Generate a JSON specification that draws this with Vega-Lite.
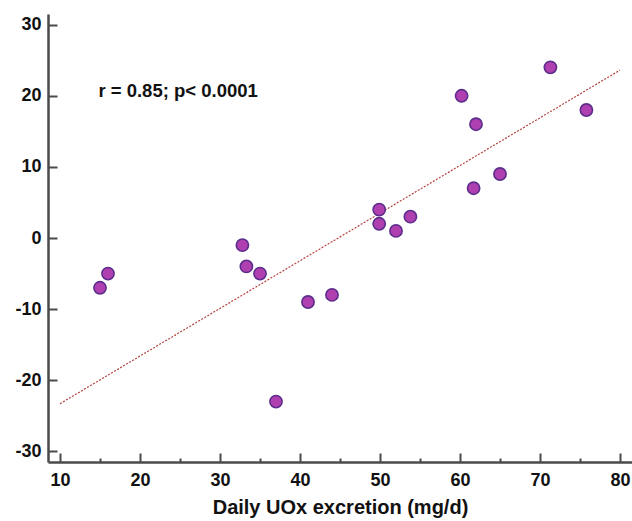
{
  "$schema": "https://vega.github.io/schema/vega-lite/v6.json",
  "width": 584,
  "height": 448,
  "autosize": {"type": "none"},
  "padding": {"left": 48, "top": 14, "right": 0, "bottom": 59},
  "background": "white",
  "config": {
    "view": {"stroke": null},
    "font": "Liberation Sans",
    "axis": {
      "grid": false,
      "domainColor": "#4a4a4a",
      "domainWidth": 2.5,
      "tickColor": "#4a4a4a",
      "tickWidth": 2,
      "labelFont": "Liberation Sans",
      "labelFontWeight": "bold",
      "labelFontSize": 18,
      "labelColor": "#111",
      "titleFont": "Liberation Sans",
      "titleFontWeight": "bold",
      "titleFontSize": 20,
      "titleColor": "#111"
    }
  },
  "datasets": {
    "pts": [
      {"uox": 15, "change": -7},
      {"uox": 16, "change": -5},
      {"uox": 32.8, "change": -1},
      {"uox": 33.3, "change": -4},
      {"uox": 35, "change": -5},
      {"uox": 37, "change": -23},
      {"uox": 41, "change": -9},
      {"uox": 44, "change": -8},
      {"uox": 49.9, "change": 4},
      {"uox": 49.9, "change": 2},
      {"uox": 52, "change": 1},
      {"uox": 53.8, "change": 3},
      {"uox": 60.2, "change": 20},
      {"uox": 62, "change": 16},
      {"uox": 61.7, "change": 7},
      {"uox": 65, "change": 9},
      {"uox": 71.3, "change": 24},
      {"uox": 75.8, "change": 18}
    ],
    "fit": [
      {"uox": 10, "change": -23.3},
      {"uox": 80, "change": 23.6}
    ],
    "note": [
      {"uox": 14.8, "change": 20.7, "text": "r = 0.85; p< 0.0001"}
    ]
  },
  "layer": [
    {
      "data": {"name": "fit"},
      "mark": {"type": "line", "color": "#b5423f", "strokeWidth": 1.2, "strokeDash": [2, 1.5]},
      "encoding": {
        "x": {
          "field": "uox", "type": "quantitative",
          "scale": {"domain": [8.5, 81.5], "nice": false, "zero": false},
          "axis": {
            "title": "Daily UOx excretion (mg/d)",
            "values": [10, 15, 20, 25, 30, 35, 40, 45, 50, 55, 60, 65, 70, 75, 80],
            "labelExpr": "datum.value % 10 === 0 ? '' + datum.value : ''",
            "tickSize": {"condition": {"test": "datum.value % 10 === 0", "value": -9}, "value": -4},
            "labelPadding": 18,
            "titlePadding": 8
          }
        },
        "y": {
          "field": "change", "type": "quantitative",
          "scale": {"domain": [-31.5, 31.5], "nice": false, "zero": false},
          "axis": {
            "title": null,
            "values": [-30, -25, -20, -15, -10, -5, 0, 5, 10, 15, 20, 25, 30],
            "labelExpr": "datum.value % 10 === 0 ? '' + datum.value : ''",
            "tickSize": {"condition": {"test": "datum.value % 10 === 0", "value": -9}, "value": -4},
            "labelPadding": 16
          }
        }
      }
    },
    {
      "data": {"name": "pts"},
      "mark": {"type": "point", "shape": "circle", "filled": true, "size": 150, "fill": "#b040b0", "stroke": "#5b2d8c", "strokeWidth": 1.6, "opacity": 1},
      "encoding": {
        "x": {"field": "uox", "type": "quantitative"},
        "y": {"field": "change", "type": "quantitative"}
      }
    },
    {
      "data": {"name": "note"},
      "mark": {"type": "text", "align": "left", "baseline": "middle", "font": "Liberation Sans", "fontWeight": "bold", "fontSize": 18.5, "color": "#111"},
      "encoding": {
        "x": {"field": "uox", "type": "quantitative"},
        "y": {"field": "change", "type": "quantitative"},
        "text": {"field": "text"}
      }
    }
  ]
}
